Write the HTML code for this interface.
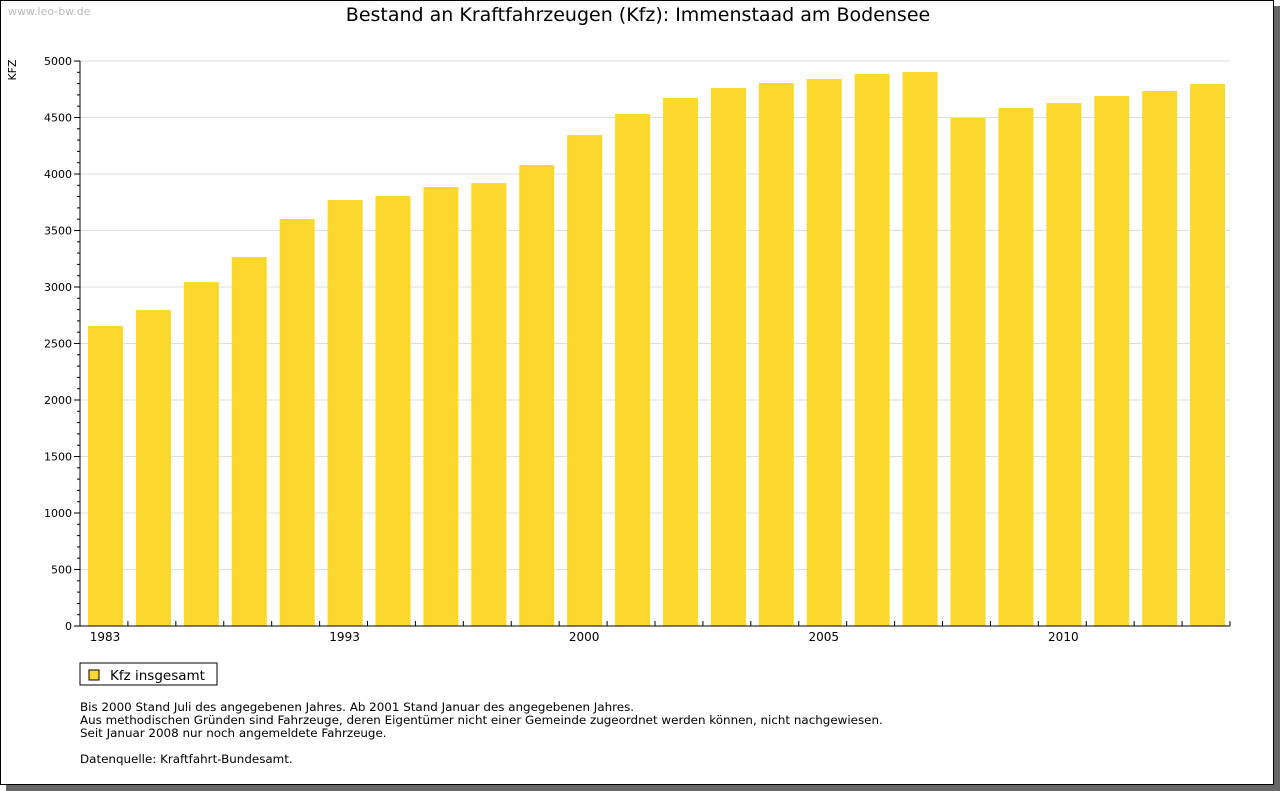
<!DOCTYPE html>
<html><head><meta charset="utf-8"><style>
body{margin:0;width:1280px;height:791px;background:#fff;overflow:hidden;font-family:"DejaVu Sans","Liberation Sans",sans-serif;}
#shadow{position:absolute;left:6px;top:6px;width:1274px;height:785px;background:#666;}
#frame{position:absolute;left:0;top:0;width:1272px;height:783px;background:#fff;border:1px solid #000;}
svg{position:absolute;left:0;top:0;}
</style></head><body>
<div id="shadow"></div>
<div id="frame"></div>
<svg id="chart" width="1280" height="791" font-family="DejaVu Sans, Liberation Sans, sans-serif">
<text x="8" y="15" font-size="11" fill="#bbb">www.leo-bw.de</text>
<text x="638" y="21" font-size="19" text-anchor="middle" fill="#000">Bestand an Kraftfahrzeugen (Kfz): Immenstaad am Bodensee</text>
<text transform="translate(16,70) rotate(-90)" font-size="11" text-anchor="middle">KFZ</text>
<g id="grid"></g><g id="bars"></g><g id="axes"></g>
<rect x="80" y="663" width="137" height="22" fill="#fff" stroke="#000"/>
<rect x="89" y="670" width="10" height="10" fill="#fcd82e" stroke="#000"/>
<text x="110" y="680" font-size="13.5">Kfz insgesamt</text>
<g font-size="11.9">
<text x="80" y="711">Bis 2000 Stand Juli des angegebenen Jahres. Ab 2001 Stand Januar des angegebenen Jahres.</text>
<text x="80" y="724">Aus methodischen Gründen sind Fahrzeuge, deren Eigentümer nicht einer Gemeinde zugeordnet werden können, nicht nachgewiesen.</text>
<text x="80" y="737">Seit Januar 2008 nur noch angemeldete Fahrzeuge.</text>
<text x="80" y="763">Datenquelle: Kraftfahrt-Bundesamt.</text>
</g>
</svg>
<script>
const categories=["1983","1985","1987","1989","1991","1993","1995","1996","1997","1998","2000","2001","2002","2003","2004","2005","2006","2007","2008","2009","2010","2011","2012","2013"];
const values=[2655,2796,3044,3265,3602,3770,3805,3885,3920,4080,4345,4531,4673,4761,4805,4841,4885,4903,4496,4584,4628,4690,4735,4796];
const shownLabels=["1983","1993","2000","2005","2010"];
const yTicks=[0,500,1000,1500,2000,2500,3000,3500,4000,4500,5000];
const NS="http://www.w3.org/2000/svg";
const X0=80,X1=1230,Y0=626,Y1=61,YMAX=5000;
const slot=(X1-X0)/categories.length;
const y=v=>Y0-(v/YMAX)*(Y0-Y1);
const x=i=>X0+i*slot;
function mk(t,a,p){const e=document.createElementNS(NS,t);for(const k in a)e.setAttribute(k,a[k]);p.appendChild(e);return e;}
const grid=document.getElementById('grid'),bars=document.getElementById('bars'),axes=document.getElementById('axes');
yTicks.forEach(v=>{
 if(v>0){const g=mk('line',{x1:X0,x2:X1,y1:y(v),y2:y(v),stroke:'#ddd'},grid);
 
 }
 const t=mk('text',{x:72,y:y(v)+4,'font-size':11,'text-anchor':'end'},axes);t.textContent=v;
 
 
});
for(let v=0;v<=YMAX;v+=100){mk('line',{x1:X0-(v%500?3:6),x2:X0,y1:y(v),y2:y(v),stroke:'#000'},axes);}
values.forEach((v,i)=>{
 const r=mk('rect',{x:x(i)+8,y:y(v),width:35,height:Y0-y(v),fill:'#fcd82e'},bars);
 
 
 if(i>0)mk('line',{x1:x(i),x2:x(i),y1:Y0,y2:Y0-5,stroke:'#000'},axes);
 if(shownLabels.includes(categories[i])){const t=mk('text',{x:x(i)+25,y:Y0+15,'font-size':12,'text-anchor':'middle'},axes);t.textContent=categories[i];
 
 }
});
const xa=mk('line',{x1:X0,x2:X1,y1:Y0,y2:Y0,stroke:'#000'},axes);


const ya=mk('line',{x1:X0,x2:X0,y1:Y0,y2:Y1,stroke:'#000'},axes);


mk('line',{x1:X1,x2:X1,y1:Y0,y2:Y0-5,stroke:'#000'},axes);
</script>
</body></html>
